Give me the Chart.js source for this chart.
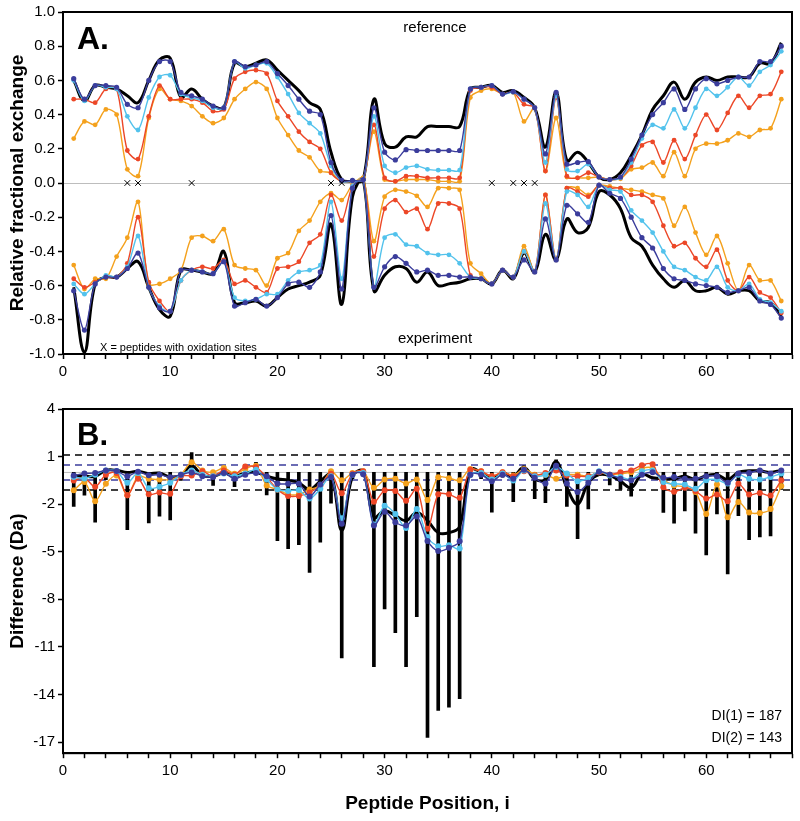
<!DOCTYPE html>
<html lang="en">
<head>
<meta charset="UTF-8">
<title>Relative fractional exchange and difference plot</title>
<script src="https://cdn.jsdelivr.net/npm/chart.js"></script>
<style>
    body { margin: 0; background: #fff; }
    .panel { position: absolute; left: 0; width: 800px; }
    #panelA { top: 0; height: 390px; }
    #panelB { top: 395px; height: 426px; }
</style>
</head>
<body>
<div class="panel" id="panelA"><canvas id="chartA"></canvas></div>
<div class="panel" id="panelB"><canvas id="chartB"></canvas></div>

<script>
// peptide positions 1..67
const positions = Array.from({ length: 67 }, (_, k) => k + 1);
const oxSites = [6, 7, 12, 25, 26, 40, 42, 43, 44];

// panel A, reference state (top half)
const refBlack = [0.60,0.48,0.57,0.56,0.55,0.51,0.47,0.60,0.72,0.73,0.50,0.55,0.49,0.45,0.44,0.70,0.68,0.70,0.72,0.66,0.60,0.54,0.47,0.43,0.18,0.02,0.01,0.02,0.49,0.23,0.21,0.27,0.27,0.33,0.33,0.33,0.33,0.55,0.56,0.57,0.53,0.54,0.50,0.44,0.21,0.53,0.13,0.18,0.12,0.035,0.02,0.06,0.16,0.28,0.43,0.51,0.59,0.49,0.59,0.62,0.60,0.62,0.62,0.62,0.70,0.70,0.82];
const refNavy = [0.61,0.49,0.57,0.57,0.56,0.46,0.44,0.60,0.71,0.71,0.53,0.51,0.49,0.45,0.44,0.71,0.68,0.69,0.71,0.64,0.57,0.49,0.42,0.40,0.12,0.015,0.015,0.02,0.44,0.18,0.135,0.195,0.19,0.19,0.19,0.19,0.19,0.55,0.56,0.57,0.52,0.535,0.49,0.44,0.17,0.53,0.11,0.12,0.125,0.035,0.02,0.035,0.14,0.28,0.40,0.47,0.55,0.43,0.55,0.61,0.58,0.60,0.62,0.62,0.71,0.71,0.80];
const refCyan = [0.60,0.48,0.57,0.56,0.55,0.39,0.31,0.50,0.62,0.63,0.52,0.50,0.48,0.44,0.44,0.71,0.67,0.69,0.70,0.62,0.52,0.41,0.35,0.29,0.10,0.01,0.01,0.02,0.39,0.10,0.06,0.09,0.10,0.08,0.075,0.075,0.075,0.55,0.56,0.57,0.52,0.53,0.49,0.44,0.12,0.51,0.08,0.07,0.11,0.035,0.02,0.03,0.12,0.26,0.34,0.32,0.43,0.32,0.44,0.55,0.51,0.56,0.62,0.57,0.65,0.69,0.77];
const refRed = [0.49,0.49,0.47,0.55,0.55,0.19,0.14,0.39,0.57,0.49,0.49,0.49,0.47,0.42,0.43,0.61,0.65,0.66,0.64,0.48,0.39,0.30,0.24,0.20,0.06,0.01,0.01,0.02,0.34,0.03,0.01,0.04,0.04,0.03,0.03,0.03,0.03,0.54,0.56,0.56,0.52,0.53,0.46,0.44,0.07,0.50,0.04,0.03,0.06,0.035,0.02,0.03,0.10,0.22,0.24,0.12,0.25,0.14,0.28,0.40,0.31,0.41,0.51,0.44,0.51,0.52,0.65];
const refOrange = [0.26,0.36,0.34,0.43,0.40,0.08,0.04,0.38,0.55,0.49,0.48,0.45,0.39,0.35,0.38,0.49,0.55,0.59,0.55,0.38,0.28,0.19,0.15,0.07,0.06,0.01,0.01,0.03,0.30,0.02,0.01,0.02,0.02,0.02,0.01,0.01,0.01,0.50,0.54,0.55,0.52,0.53,0.36,0.44,0.07,0.38,0.035,0.03,0.03,0.035,0.02,0.025,0.08,0.09,0.12,0.04,0.18,0.04,0.20,0.23,0.23,0.25,0.29,0.27,0.31,0.32,0.49];

// panel A, experiment state (bottom half)
const expBlack = [-0.61,-0.99,-0.59,-0.55,-0.55,-0.50,-0.46,-0.61,-0.74,-0.78,-0.51,-0.51,-0.52,-0.53,-0.40,-0.70,-0.70,-0.69,-0.72,-0.67,-0.62,-0.60,-0.58,-0.54,-0.24,-0.71,-0.08,0.02,-0.63,-0.54,-0.49,-0.50,-0.58,-0.52,-0.60,-0.59,-0.58,-0.56,-0.56,-0.59,-0.51,-0.56,-0.41,-0.52,-0.30,-0.45,-0.21,-0.29,-0.26,-0.05,-0.07,-0.15,-0.32,-0.37,-0.48,-0.56,-0.61,-0.57,-0.63,-0.63,-0.61,-0.65,-0.63,-0.63,-0.69,-0.70,-0.78];
const expNavy = [-0.63,-0.86,-0.59,-0.55,-0.55,-0.50,-0.41,-0.61,-0.73,-0.75,-0.51,-0.51,-0.52,-0.53,-0.46,-0.72,-0.70,-0.68,-0.72,-0.67,-0.59,-0.58,-0.61,-0.52,-0.19,-0.62,-0.03,0.02,-0.61,-0.49,-0.43,-0.47,-0.52,-0.51,-0.54,-0.54,-0.55,-0.55,-0.56,-0.59,-0.51,-0.55,-0.45,-0.52,-0.21,-0.45,-0.13,-0.18,-0.23,-0.013,-0.06,-0.09,-0.20,-0.32,-0.38,-0.50,-0.56,-0.57,-0.59,-0.60,-0.61,-0.64,-0.63,-0.61,-0.69,-0.71,-0.79];
const expCyan = [-0.59,-0.65,-0.59,-0.54,-0.55,-0.49,-0.31,-0.61,-0.72,-0.75,-0.57,-0.51,-0.52,-0.53,-0.46,-0.67,-0.69,-0.68,-0.65,-0.65,-0.57,-0.52,-0.51,-0.48,-0.11,-0.56,-0.02,0.02,-0.61,-0.32,-0.30,-0.36,-0.37,-0.41,-0.42,-0.42,-0.47,-0.55,-0.56,-0.59,-0.51,-0.55,-0.40,-0.52,-0.12,-0.45,-0.05,-0.07,-0.14,-0.013,-0.04,-0.05,-0.16,-0.22,-0.29,-0.40,-0.49,-0.51,-0.55,-0.57,-0.49,-0.61,-0.63,-0.59,-0.68,-0.70,-0.75];
const expRed = [-0.56,-0.61,-0.58,-0.55,-0.55,-0.47,-0.20,-0.58,-0.69,-0.75,-0.57,-0.51,-0.49,-0.50,-0.45,-0.59,-0.57,-0.61,-0.64,-0.50,-0.49,-0.46,-0.35,-0.30,-0.07,-0.22,-0.02,0.02,-0.43,-0.15,-0.10,-0.17,-0.15,-0.27,-0.12,-0.12,-0.15,-0.54,-0.56,-0.59,-0.51,-0.55,-0.40,-0.52,-0.07,-0.45,-0.03,-0.05,-0.08,-0.013,-0.03,-0.03,-0.07,-0.07,-0.11,-0.25,-0.37,-0.35,-0.44,-0.49,-0.39,-0.57,-0.63,-0.55,-0.64,-0.67,-0.76];
const expOrange = [-0.48,-0.62,-0.56,-0.56,-0.43,-0.32,-0.11,-0.59,-0.59,-0.56,-0.51,-0.32,-0.31,-0.34,-0.27,-0.48,-0.50,-0.51,-0.60,-0.44,-0.41,-0.28,-0.22,-0.11,-0.06,-0.10,-0.01,0.03,-0.34,-0.08,-0.04,-0.05,-0.075,-0.14,-0.03,-0.03,-0.04,-0.47,-0.53,-0.59,-0.51,-0.55,-0.37,-0.52,-0.07,-0.45,-0.03,-0.03,-0.07,-0.013,-0.02,-0.03,-0.04,-0.05,-0.07,-0.09,-0.25,-0.14,-0.29,-0.42,-0.31,-0.47,-0.63,-0.48,-0.57,-0.57,-0.69];

// panel B, differences (Da)
const diffBars = [-2.14,-1.44,-3.14,-0.45,0,-3.6,-0.5,-3.18,-2.76,-3.0,-0.5,1.25,-0.3,-0.82,0,-0.9,0,0.63,-1.42,-4.3,-4.8,-4.55,-6.3,-4.4,-1.94,-11.7,-0.4,0,-12.25,-8.6,-10.1,-12.25,-9.1,-16.7,-15.0,-14.8,-14.26,-0.3,-0.4,-2.5,-0.3,-1.85,0.42,-1.65,-1.9,0.8,-2.14,-4.17,-2.3,0,-0.78,-1.07,-1.5,0,0.55,-2.52,-3.19,-2.42,-3.83,-5.2,-2.62,-6.4,-2.72,-4.24,-4.07,-4.0,-1.07];
const diffBlack = [-0.2,-0.24,-0.24,0.13,0.13,0.0,0.07,-0.08,-0.04,-0.28,-0.18,0.42,-0.18,-0.24,-0.03,-0.24,-0.03,0.01,-0.24,-0.41,-0.49,-0.65,-1.07,-0.55,-0.14,-3.66,-0.24,0.07,-2.83,-2.41,-2.72,-3.04,-2.52,-3.04,-3.8,-3.8,-3.4,0.17,0.01,-0.41,-0.03,-0.24,0.32,-0.41,-0.45,0.69,-0.96,-2.0,-0.65,-0.14,-0.2,-0.55,-0.96,-0.14,-0.34,-0.4,-0.4,-0.24,-0.45,-0.2,-0.14,-0.45,0.01,0.1,0.1,0.0,0.13];
const diffNavy = [-0.2,-0.07,-0.03,0.13,0.09,-0.24,0.05,-0.18,-0.14,-0.3,-0.14,0.0,-0.24,-0.28,-0.03,-0.4,-0.14,-0.03,-0.24,-0.7,-0.72,-0.72,-1.52,-0.76,-0.28,-3.24,-0.14,-0.12,-3.35,-2.48,-3.14,-3.35,-2.77,-4.32,-4.96,-4.75,-4.34,-0.14,-0.14,-0.55,-0.14,-0.39,0.17,-0.34,-0.7,0.42,-0.7,-1.23,-0.65,0.05,-0.14,-0.4,-0.49,-0.14,0.01,-0.34,-0.28,-0.4,-0.4,-0.24,-0.24,-0.65,-0.07,-0.03,0.13,-0.07,0.13];
const diffCyan = [-0.28,-0.38,-0.14,0.13,0.09,-0.65,-0.03,-1.0,-0.9,-0.65,-0.14,0.13,-0.14,-0.24,-0.07,-0.24,-0.07,0.17,-0.45,-1.07,-1.17,-1.11,-1.65,-1.03,-0.24,-2.89,-0.14,-0.03,-3.28,-2.1,-2.62,-3.5,-2.31,-4.07,-4.65,-4.59,-4.8,-0.14,-0.03,-0.45,-0.07,-0.51,0.13,-0.24,-0.14,0.34,-0.07,-0.55,-0.34,0.07,-0.2,-0.28,-0.45,0.07,0.13,-0.61,-0.72,-0.76,-1.03,-0.49,-0.45,-0.7,-0.14,-0.4,-0.45,-0.28,-0.07];
const diffRed = [-0.5,-0.34,-0.9,-0.14,-0.03,-1.44,-0.4,-1.38,-1.27,-1.34,-0.24,-0.2,0.07,-0.24,0.13,-0.14,0.38,0.32,-0.3,-1.07,-1.48,-1.48,-1.27,-0.82,-0.08,-1.31,-0.08,0.07,-1.85,-1.13,-1.17,-1.79,-1.03,-3.55,-1.38,-1.38,-1.6,0.17,0.07,-0.24,0.01,-0.24,0.07,-0.2,-0.03,0.13,-0.2,-0.24,-0.24,0.01,-0.14,0.01,0.13,0.46,0.52,-0.93,-1.22,-0.97,-1.17,-1.65,-1.39,-1.81,-0.72,-1.39,-1.29,-1.45,-0.49];
const diffOrange = [-1.13,-0.61,-1.81,-0.72,-0.2,-1.44,-0.24,-0.4,-0.45,-0.45,-0.14,0.65,0.13,0.01,0.28,-0.08,0.22,0.42,-0.82,-1.07,-1.38,-1.38,-1.07,-0.86,0.07,-0.49,-0.03,0.07,-0.96,-0.45,-0.4,-0.7,-0.45,-1.73,-0.3,-0.36,-0.49,0.22,0.07,-0.24,0.01,-0.2,0.22,-0.14,-0.14,-0.4,-0.14,-0.14,-0.24,0.01,-0.14,-0.08,0.01,0.28,0.28,-0.45,-0.82,-0.9,-1.23,-2.62,-0.76,-2.83,-1.86,-2.52,-2.56,-2.31,-0.86];

// significance limits in panel B
const limitOuter = 1.1;
const limitInner = 0.47;
const diffTicks = [4, 1, -2, -5, -8, -11, -14, -17];

const NAVY = '#3b3d9c';
const CYAN = '#52c2ec';
const RED = '#ec4727';
const ORANGE = '#f4a11d';

Chart.defaults.font.family = "'Liberation Sans', Arial, sans-serif";
Chart.defaults.color = '#000';
Chart.defaults.animation = false;

function xy(arr) {
    return positions.map((p, k) => ({ x: p, y: arr[k] }));
}

function dotted(label, arr, color, r) {
    return {
        label: label, data: xy(arr), borderColor: color, backgroundColor: color,
        borderWidth: 1.4, pointRadius: r, pointBorderWidth: 0, tension: 0.3
    };
}

function heavy(label, arr) {
    return {
        label: label, data: xy(arr), borderColor: '#000', borderWidth: 3,
        pointRadius: 0, tension: 0.4
    };
}

// box around the plot area, plus free text
function framePlugin(texts) {
    return {
        id: 'frame',
        afterDraw(chart) {
            const { ctx, chartArea: a } = chart;
            ctx.save();
            ctx.strokeStyle = '#000';
            ctx.lineWidth = 2;
            ctx.strokeRect(a.left, a.top, a.right - a.left, a.bottom - a.top);
            ctx.fillStyle = '#000';
            texts.forEach(t => {
                ctx.font = t.font;
                ctx.textAlign = t.align;
                ctx.textBaseline = 'middle';
                ctx.fillText(t.text, t.x, t.y);
            });
            ctx.restore();
        }
    };
}

function xAxis(withTitle) {
    return {
        type: 'linear', min: 0, max: 68, offset: false,
        border: { color: '#000', width: 2 },
        grid: { offset: false, drawOnChartArea: false, tickColor: '#000', tickWidth: 1.5, tickLength: 5 },
        ticks: {
            stepSize: 2, autoSkip: false, maxRotation: 0, padding: 4,
            font: { size: 15 },
            callback: v => (v % 10 === 0 && v <= 60) ? String(v) : ''
        },
        title: withTitle ? {
            display: true, text: 'Peptide Position, i',
            font: { size: 19, weight: 'bold' }, padding: { top: 8, bottom: 0 }
        } : { display: false }
    };
}

// ---- panel A ----
new Chart(document.getElementById('chartA'), {
    type: 'line',
    data: {
        datasets: [
            {
                label: 'oxidation', data: oxSites.map(p => ({ x: p, y: 0 })),
                showLine: false, pointStyle: 'crossRot', pointRadius: 4,
                borderColor: '#000', borderWidth: 1
            },
            dotted('ref navy', refNavy, NAVY, 2.6),
            dotted('ref cyan', refCyan, CYAN, 2.4),
            dotted('ref red', refRed, RED, 2.4),
            dotted('ref orange', refOrange, ORANGE, 2.4),
            dotted('exp navy', expNavy, NAVY, 2.6),
            dotted('exp cyan', expCyan, CYAN, 2.4),
            dotted('exp red', expRed, RED, 2.4),
            dotted('exp orange', expOrange, ORANGE, 2.4),
            heavy('ref black', refBlack),
            heavy('exp black', expBlack)
        ]
    },
    options: {
        responsive: true, maintainAspectRatio: false,
        layout: { padding: { top: 11, right: 8, bottom: 5, left: 0 } },
        plugins: { legend: { display: false }, tooltip: { enabled: false } },
        scales: {
            x: xAxis(false),
            y: {
                min: -1, max: 1,
                afterFit: s => { s.width = 63; },
                border: { color: '#000', width: 2 },
                grid: {
                    color: c => Math.abs(c.tick.value) < 1e-9 ? '#bdbdbd' : 'rgba(0,0,0,0)',
                    lineWidth: 1, tickColor: '#000', tickWidth: 1.5, tickLength: 5
                },
                ticks: {
                    stepSize: 0.2, padding: 3, font: { size: 15 },
                    callback: v => Math.abs(v) < 1e-9 ? '0.0' : v.toFixed(1)
                },
                title: {
                    display: true, text: 'Relative fractional exchange',
                    font: { size: 19, weight: 'bold' }, padding: { top: 6, bottom: 2 }
                }
            }
        }
    },
    plugins: [framePlugin([
        { text: 'A.', x: 77, y: 40, font: 'bold 32px "Liberation Sans", Arial', align: 'left' },
        { text: 'reference', x: 435, y: 28, font: '15px "Liberation Sans", Arial', align: 'center' },
        { text: 'experiment', x: 435, y: 339, font: '15px "Liberation Sans", Arial', align: 'center' },
        { text: 'X = peptides with oxidation sites', x: 100, y: 348, font: '11px "Liberation Sans", Arial', align: 'left' }
    ])]
});

// ---- panel B ----
const limitLines = {
    id: 'limits',
    beforeDatasetsDraw(chart) {
        const { ctx, chartArea: a, scales: { y } } = chart;
        const rule = (v, color, dash, w) => {
            const py = y.getPixelForValue(v);
            ctx.beginPath();
            ctx.setLineDash(dash);
            ctx.strokeStyle = color;
            ctx.lineWidth = w;
            ctx.moveTo(a.left, py);
            ctx.lineTo(a.right, py);
            ctx.stroke();
        };
        ctx.save();
        rule(0, '#bdbdbd', [], 1);
        rule(limitOuter, '#000', [7, 5], 1.5);
        rule(-limitOuter, '#000', [7, 5], 1.5);
        rule(limitInner, NAVY, [7, 5], 1.5);
        rule(-limitInner, NAVY, [7, 5], 1.5);
        ctx.restore();
    }
};

new Chart(document.getElementById('chartB'), {
    type: 'line',
    data: {
        datasets: [
            dotted('navy', diffNavy, NAVY, 3),
            dotted('cyan', diffCyan, CYAN, 3),
            dotted('red', diffRed, RED, 3),
            dotted('orange', diffOrange, ORANGE, 3),
            heavy('black', diffBlack),
            {
                type: 'bar', label: 'difference', data: xy(diffBars),
                backgroundColor: '#000', barThickness: 3, borderWidth: 0
            }
        ]
    },
    options: {
        responsive: true, maintainAspectRatio: false,
        layout: { padding: { top: 14, right: 8, bottom: 6, left: 0 } },
        plugins: { legend: { display: false }, tooltip: { enabled: false } },
        scales: {
            x: xAxis(true),
            y: {
                min: -17.7, max: 4,
                afterFit: s => { s.width = 63; },
                afterBuildTicks: s => { s.ticks = diffTicks.map(v => ({ value: v })); },
                border: { color: '#000', width: 2 },
                grid: { drawOnChartArea: false, tickColor: '#000', tickWidth: 1.5, tickLength: 5 },
                ticks: { padding: 3, font: { size: 15 } },
                title: {
                    display: true, text: 'Difference (Da)',
                    font: { size: 19, weight: 'bold' }, padding: { top: 6, bottom: 2 }
                }
            }
        }
    },
    plugins: [limitLines, framePlugin([
        { text: 'B.', x: 77, y: 41, font: 'bold 31px "Liberation Sans", Arial', align: 'left' },
        { text: 'DI(1) = 187', x: 782, y: 321, font: '14px "Liberation Sans", Arial', align: 'right' },
        { text: 'DI(2) = 143', x: 782, y: 343, font: '14px "Liberation Sans", Arial', align: 'right' }
    ])]
});
</script>
</body>
</html>
